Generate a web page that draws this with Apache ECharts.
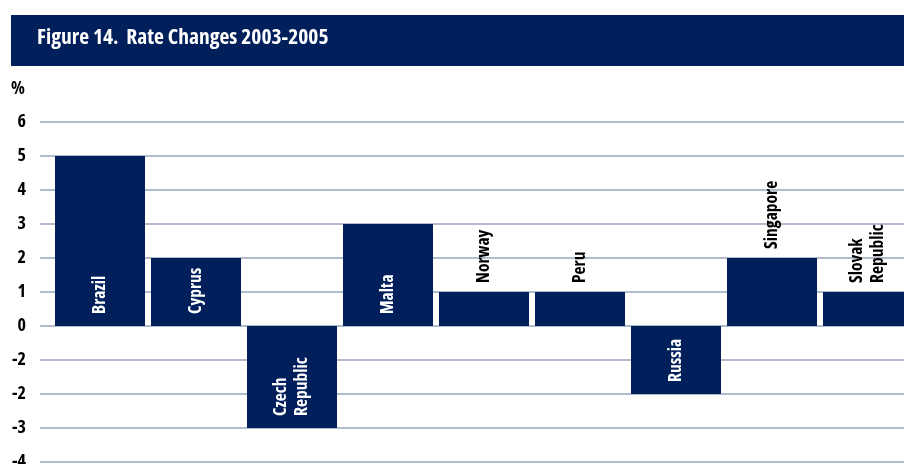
<!DOCTYPE html>
<html>
<head>
<meta charset="utf-8">
<script src="https://cdn.jsdelivr.net/npm/echarts@6/dist/echarts.min.js"></script>
<style>
  html, body { margin: 0; padding: 0; background: #fff; }
  #chart { width: 904px; height: 464px; }
</style>
</head>
<body>
<div id="chart"></div>
<script>
// Rate changes by country, 2003-2005 (%)
const countries = ['Brazil', 'Cyprus', 'Czech\nRepublic', 'Malta', 'Norway', 'Peru', 'Russia', 'Singapore', 'Slovak\nRepublic'];
const rateChanges = [5, 2, -3, 3, 1, 1, -2, 2, 1];
// Labels placed inside the bar (white) vs. above it (black)
const labelInside = [true, true, true, true, false, false, true, false, false];

// Value-axis tick labels as printed on the axis
const tickValues = [6, 5, 4, 3, 2, 1, 0, -1, -2, -3, -4];
const tickLabels = ['6', '5', '4', '3', '2', '1', '0', '-2', '-2', '-3', '-4'];

const NAVY = '#001f5b';
const FONT = '"Open Sans", "Liberation Sans", sans-serif';
const WEIGHT = 'bold condensed';

const chart = echarts.init(document.getElementById('chart'), null, { renderer: 'canvas' });

const barData = rateChanges.map((v, i) => {
  const inside = labelInside[i];
  return {
    value: v,
    label: {
      position: inside ? 'insideBottom' : 'top',
      distance: inside ? 12 : 9,
      color: inside ? '#ffffff' : '#000000'
    }
  };
});

chart.setOption({
  animation: false,
  backgroundColor: '#ffffff',
  graphic: [
    {
      type: 'rect',
      shape: { x: 11, y: 15, width: 893, height: 51 },
      style: { fill: NAVY },
      silent: true
    },
    {
      type: 'text',
      left: 37,
      top: 27,
      style: {
        text: 'Figure 14.  Rate Changes 2003-2005',
        fill: '#ffffff',
        font: WEIGHT + ' 21.5px ' + FONT
      }
    },
    {
      type: 'text',
      left: 11,
      top: 80,
      style: {
        text: '%',
        fill: '#000000',
        font: WEIGHT + ' 18px ' + FONT
      }
    }
  ],
  grid: [
    // axis labels and horizontal rules
    { left: 40, right: 0, top: 122, bottom: 2, containLabel: false, outerBoundsMode: 'none' },
    // bars
    { left: 52, right: -12, top: 122, bottom: 2, containLabel: false, outerBoundsMode: 'none' }
  ],
  xAxis: [
    { type: 'value', gridIndex: 0, show: false, min: 0, max: 1 },
    {
      type: 'category', gridIndex: 1, data: countries,
      axisLine: { show: false }, axisTick: { show: false }, axisLabel: { show: false },
      splitLine: { show: false }
    }
  ],
  yAxis: [
    {
      type: 'value', gridIndex: 0, min: -4, max: 6, interval: 1,
      axisLine: { show: false }, axisTick: { show: false },
      axisLabel: {
        margin: 14,
        color: '#000000',
        fontFamily: FONT,
        fontWeight: WEIGHT,
        fontSize: 18,
        formatter: (v) => {
          const k = tickValues.indexOf(Math.round(v));
          return k >= 0 ? tickLabels[k] : '';
        }
      },
      splitLine: { show: true, lineStyle: { color: '#b3bccc', width: 2 } }
    },
    {
      type: 'value', gridIndex: 1, min: -4, max: 6, interval: 1, show: false,
      splitLine: { show: false }
    }
  ],
  series: [
    {
      type: 'bar',
      xAxisIndex: 1,
      yAxisIndex: 1,
      data: barData,
      barWidth: '93.75%',
      itemStyle: { color: NAVY },
      label: {
        show: true,
        rotate: 90,
        align: 'left',
        verticalAlign: 'middle',
        fontFamily: FONT,
        fontWeight: WEIGHT,
        fontSize: 17.5,
        lineHeight: 21,
        formatter: (p) => p.name
      }
    }
  ]
});
</script>
</body>
</html>
